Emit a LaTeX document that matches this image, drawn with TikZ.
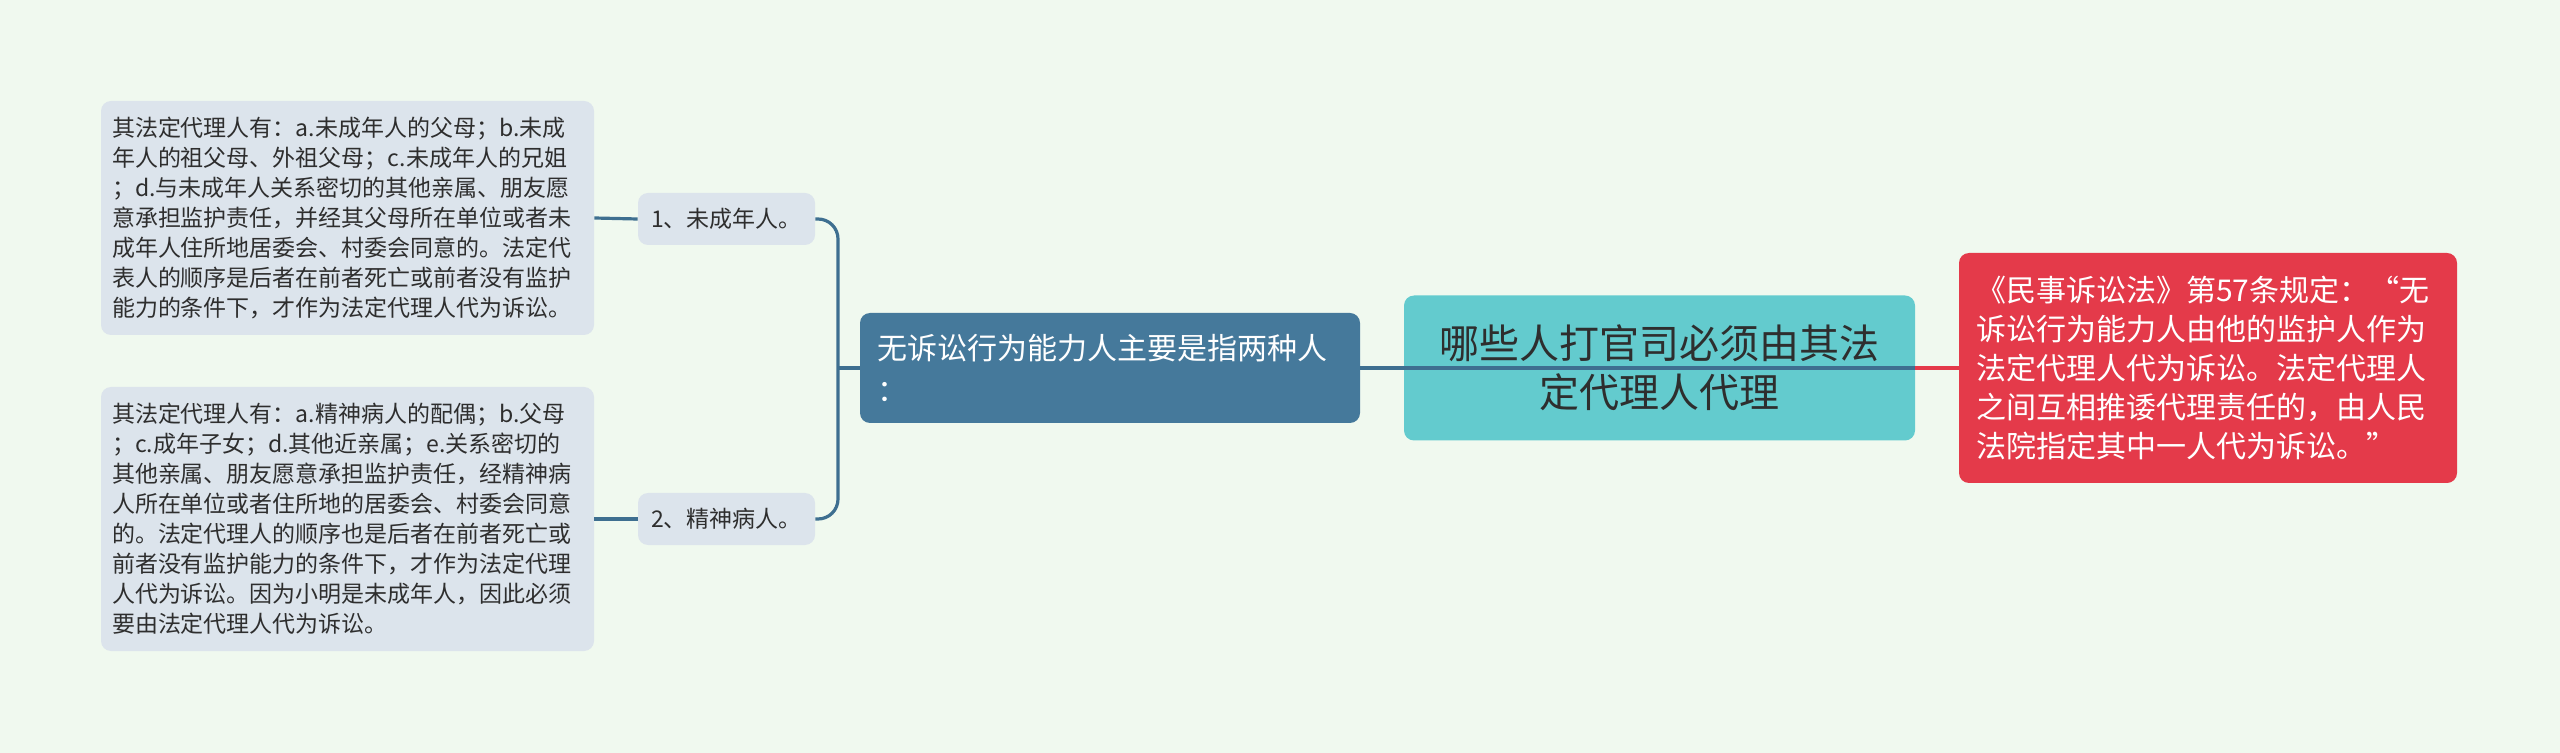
\documentclass[tikz,border=0pt]{standalone}
\usepackage{fontspec}
\setmainfont{Noto Sans CJK SC}
\definecolor{bgc}{HTML}{F0F9EF}
\definecolor{graybox}{HTML}{DCE4EC}
\definecolor{bluebox}{HTML}{45799B}
\definecolor{tealbox}{HTML}{63CBCE}
\definecolor{redbox}{HTML}{E43A4A}
\definecolor{connc}{HTML}{3E6F90}
\definecolor{textdark}{HTML}{2E2E2E}
\begin{document}
\begin{tikzpicture}[x=0.5pt,y=-0.5pt,
  leafbox/.style={rectangle, rounded corners=5pt, fill=graybox, text=textdark,
    font=\fontsize{11.5}{15}\selectfont, inner sep=0pt},
  bluestyle/.style={rectangle, rounded corners=5pt, fill=bluebox, text=white,
    font=\fontsize{15}{21}\selectfont, inner sep=0pt, align=left, text width=233pt},
  centerstyle/.style={rectangle, rounded corners=5pt, fill=tealbox, text=textdark,
    font=\fontsize{20}{24.5}\selectfont, inner sep=0pt, align=center},
  redstyle/.style={rectangle, rounded corners=5pt, fill=redbox, text=white,
    font=\fontsize{15}{19.4}\selectfont, inner sep=0pt, align=left, text width=232pt},
  conn/.style={draw=connc, line width=1.6pt},
  redconn/.style={draw=redbox, line width=1.6pt}]
\fill[bgc] (0,0) rectangle (2560,753);
\useasboundingbox (0,0) rectangle (2560,753);

\node[leafbox, align=left, text width=235.5pt, minimum width=246.5pt, minimum height=117pt] (L1) at (347.5,218)
 {其法定代理人有：a.未成年人的父母；b.未成\\
  年人的祖父母、外祖父母；c.未成年人的兄姐\\
  ；d.与未成年人关系密切的其他亲属、朋友愿\\
  意承担监护责任，并经其父母所在单位或者未\\
  成年人住所地居委会、村委会同意的。法定代\\
  表人的顺序是后者在前者死亡或前者没有监护\\
  能力的条件下，才作为法定代理人代为诉讼。};

\node[leafbox, align=left, text width=235.5pt, minimum width=246.5pt, minimum height=132pt] (L2) at (347.5,519)
 {其法定代理人有：a.精神病人的配偶；b.父母\\
  ；c.成年子女；d.其他近亲属；e.关系密切的\\
  其他亲属、朋友愿意承担监护责任，经精神病\\
  人所在单位或者住所地的居委会、村委会同意\\
  的。法定代理人的顺序也是后者在前者死亡或\\
  前者没有监护能力的条件下，才作为法定代理\\
  人代为诉讼。因为小明是未成年人，因此必须\\
  要由法定代理人代为诉讼。};

\node[leafbox, minimum width=88.5pt, minimum height=26pt] (n1) at (726.5,219) {1、未成年人。};
\node[leafbox, minimum width=88.5pt, minimum height=26pt] (n2) at (726.5,519) {2、精神病人。};

\node[bluestyle, minimum width=250pt, minimum height=55pt] (blue) at (1110,368)
 {无诉讼行为能力人主要是指两种人\\：};

\node[centerstyle, minimum width=255.5pt, minimum height=72.5pt] (center) at (1659.5,368)
 {哪些人打官司必须由其法\\定代理人代理};

\node[redstyle, minimum width=249pt, minimum height=115pt] (red) at (2208,368)
 {《民事诉讼法》第57条规定：“无\\
  诉讼行为能力人由他的监护人作为\\
  法定代理人代为诉讼。法定代理人\\
  之间互相推诿代理责任的，由人民\\
  法院指定其中一人代为诉讼。”};

\coordinate (j) at (838,368);
\draw[conn] (blue.east) -- (center.east);
\draw[redconn] (center.east) -- (red.west);
\draw[conn] (blue.west) -- (j);
\draw[conn, rounded corners=10pt] (n1.east) -| (j) |- (n2.east);
\draw[conn] (n1.west) -- (L1.east);
\draw[conn] (n2.west) -- (L2.east);
\end{tikzpicture}
\end{document}
